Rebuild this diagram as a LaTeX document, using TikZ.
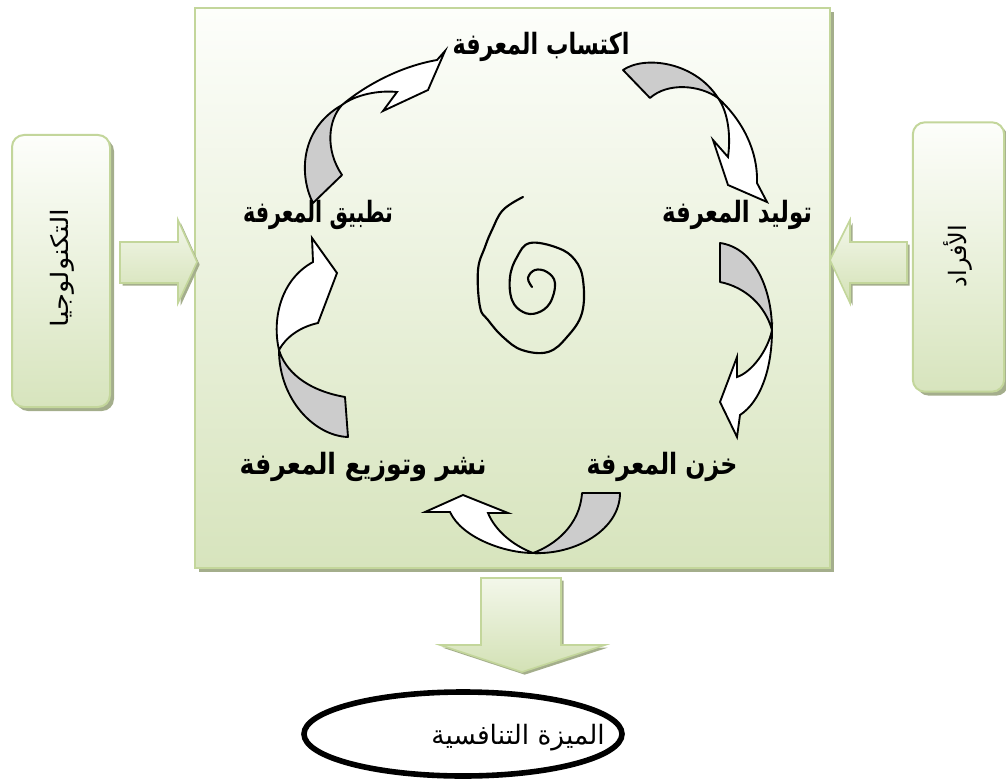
\documentclass[tikz,border=0pt]{standalone}
\usepackage{graphicx}
\usepackage{fontspec}
\usetikzlibrary{shadows,shapes.geometric}
\newfontfamily\arabicfont[Script=Arabic]{DejaVu Sans}
\TeXXeTstate=1

\definecolor{frame}{HTML}{C3D69B}
\definecolor{shadeTop}{HTML}{FDFEFB}
\definecolor{shadeBot}{HTML}{D7E4BD}
\definecolor{arrowTop}{HTML}{F3F7EA}
\definecolor{arrowBot}{HTML}{D3E1B5}
\definecolor{shadowc}{HTML}{A4AE8C}
\definecolor{band}{HTML}{CCCCCC}

\tikzset{
  panel/.style={draw=frame, line width=1.5pt, top color=shadeTop, bottom color=shadeBot,
    drop shadow={shadow xshift=3pt, shadow yshift=-3pt, fill=shadowc, opacity=1}},
  sidepanel/.style={panel, rounded corners=9pt},
  blockarrow/.style={draw=frame, line width=1.2pt, top color=arrowTop, bottom color=arrowBot,
    line join=miter, drop shadow={shadow xshift=2pt, shadow yshift=-2pt, fill=shadowc, opacity=1}},
  backband/.style={draw=black, line width=1.4pt, fill=band, line join=round},
  frontband/.style={draw=black, line width=1.4pt, fill=white, line join=miter},
  steplabel/.style={font=\arabicfont\bfseries\fontsize{22}{24}\selectfont, inner sep=0pt},
  sidelabel/.style={font=\arabicfont\fontsize{18}{20}\selectfont, inner sep=0pt, rotate=90},
  goal/.style={ellipse, draw=black, line width=4.2pt, fill=white},
}

\begin{document}
\begin{tikzpicture}[x=0.75pt,y=-0.75pt]
\useasboundingbox (0,0) rectangle (1006,781);

% knowledge-management frame and the two input panels
\node[panel, minimum width=476pt, minimum height=420pt] (main) at (512.5,288) {};
\node[sidepanel, minimum width=73.5pt, minimum height=204pt] (techbox) at (61,271) {};
\node[sidepanel, minimum width=68.5pt, minimum height=202pt] (peoplebox) at (958.5,257) {};

\node[sidelabel] (tech) at (62,268) {\resizebox{89pt}{\height}{\beginR التكنولوجيا\endR}};
\node[sidelabel] (people) at (958,256) {\resizebox{47pt}{\height}{\beginR الأفراد\endR}};

% block arrows feeding the frame and leaving it
\path[blockarrow] (120,242) -- (178,242) -- (178,220) -- (197,262) -- (178,303)
  -- (178,283) -- (120,283) -- cycle;
\path[blockarrow] (907,242) -- (850,242) -- (850,220) -- (830,260) -- (850,303)
  -- (850,283) -- (907,283) -- cycle;
\path[blockarrow] (481,578) -- (561,578) -- (561,645) -- (605,645) -- (522,672)
  -- (440,645) -- (481,645) -- cycle;

% outcome
\node[goal, minimum width=318pt*0.75, minimum height=84pt*0.75] (adv) at (463,734) {};
\node[font=\arabicfont\fontsize{20}{22}\selectfont, inner sep=0pt] (advtext) at (518,738)
  {\resizebox{130pt}{\height}{\beginR الميزة التنافسية\endR}};

% cycle stages
\node[steplabel] (acq) at (541,47) {\resizebox{132.75pt}{\height}{\beginR اكتساب المعرفة\endR}};
\node[steplabel] (gen) at (737,215) {\resizebox{112.5pt}{\height}{\beginR توليد المعرفة\endR}};
\node[steplabel] (store) at (662,467) {\resizebox{113.25pt}{\height}{\beginR خزن المعرفة\endR}};
\node[steplabel] (share) at (363,467) {\resizebox{185.25pt}{\height}{\beginR نشر وتوزيع المعرفة\endR}};
\node[steplabel] (apply) at (318,215) {\resizebox{112.5pt}{\height}{\beginR تطبيق المعرفة\endR}};

% twisted ribbon arrows between the stages
% apply -> acquire
\draw[backband] (313,203) .. controls (300,178) and (298,130) .. (342,105)
  .. controls (328,120) and (325,150) .. (342,175) -- cycle;
\draw[frontband] (342,105) .. controls (362,88) and (397,67) .. (437,60) -- (445,51)
  -- (428,90) -- (383,111) -- (397,92) .. controls (378,90) and (355,95) .. (342,105) -- cycle;
% acquire -> generate
\draw[backband] (623,70) .. controls (645,55) and (695,62) .. (718,98)
  .. controls (700,85) and (668,82) .. (650,98) -- cycle;
\draw[frontband] (718,98) .. controls (742,120) and (758,150) .. (757,183) -- (767,202)
  -- (728,185) -- (713,140) -- (728,157) .. controls (731,135) and (728,112) .. (718,98) -- cycle;
% generate -> store
\draw[backband] (720,243) .. controls (755,248) and (772,290) .. (772,330)
  .. controls (765,305) and (745,287) .. (720,282) -- cycle;
\draw[frontband] (772,330) .. controls (772,370) and (760,402) .. (740,415) -- (737,437)
  -- (720,402) -- (737,357) -- (737,377) .. controls (752,372) and (768,350) .. (772,330) -- cycle;
% store -> share
\draw[backband] (620,493) .. controls (620,530) and (575,555) .. (533,553)
  .. controls (555,545) and (580,525) .. (582,493) -- cycle;
\draw[frontband] (533,553) .. controls (505,553) and (462,538) .. (450,512) -- (425,512)
  -- (463,495) -- (508,513) -- (488,513) .. controls (495,530) and (512,545) .. (533,553) -- cycle;
% share -> apply
\draw[backband] (348,437) .. controls (315,436) and (279,400) .. (279,350)
  .. controls (285,370) and (305,390) .. (345,397) -- cycle;
\draw[frontband] (279,350) .. controls (272,320) and (280,280) .. (313,262) -- (312,238)
  -- (337,273) -- (318,323) .. controls (300,327) and (286,337) .. (279,350) -- cycle;

% spiral at the centre of the cycle
\draw[line width=1.6pt, line cap=round, line join=round] plot[smooth, tension=0.65] coordinates {
  (523,197) (503,210) (492,230) (485,247) (478,270) (480,307) (488,320) (503,337)
  (522,350) (548,352) (567,337) (582,313) (583,280) (575,260) (558,248)
  (530,243) (517,257) (510,277) (512,300) (523,312) (537,313) (550,303) (555,283)
  (547,272) (535,270) (528,278) (532,287)};
\end{tikzpicture}
\end{document}
